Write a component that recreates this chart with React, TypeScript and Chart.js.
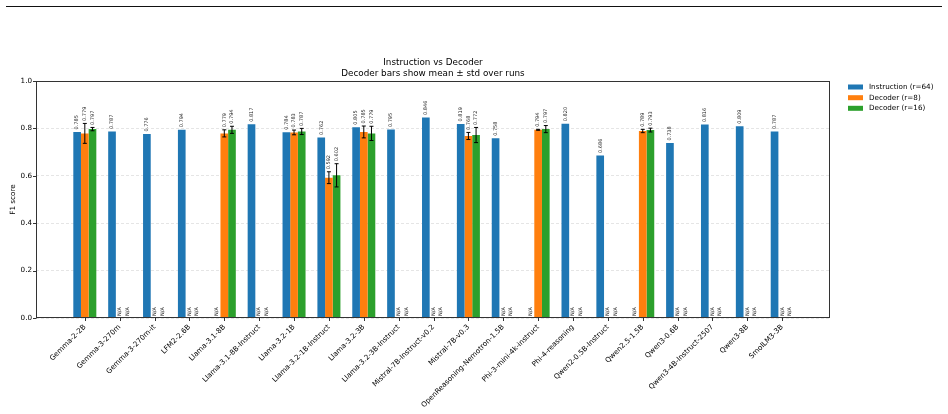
import React, { useEffect, useRef } from 'react';
import { Chart, registerables } from 'chart.js';

Chart.register(...registerables);

const categories = [
  'Gemma-2-2B', 'Gemma-3-270m', 'Gemma-3-270m-it', 'LFM2-2.6B', 'Llama-3.1-8B',
  'Llama-3.1-8B-Instruct', 'Llama-3.2-1B', 'Llama-3.2-1B-Instruct', 'Llama-3.2-3B',
  'Llama-3.2-3B-Instruct', 'Mistral-7B-Instruct-v0.2', 'Mistral-7B-v0.3',
  'OpenReasoning-Nemotron-1.5B', 'Phi-3-mini-4k-instruct', 'Phi-4-reasoning',
  'Qwen2-0.5B-Instruct', 'Qwen2.5-1.5B', 'Qwen3-0.6B', 'Qwen3-4B-Instruct-2507',
  'Qwen3-8B', 'SmolLM3-3B',
];

const instruction = [
  0.785, 0.787, 0.776, 0.794, null, 0.817, 0.784, 0.762, 0.805, 0.795, 0.846,
  0.819, 0.758, null, 0.820, 0.686, null, 0.738, 0.816, 0.809, 0.787,
];

const decoderR8 = [
  0.779, null, null, null, 0.779, null, 0.783, 0.592, 0.785, null, null,
  0.768, null, 0.794, null, null, 0.789, null, null, null, null,
];
const decoderR8Std = [
  0.042, null, null, null, 0.015, null, 0.010, 0.025, 0.025, null, null,
  0.015, null, 0.002, null, null, 0.007, null, null, null, null,
];

const decoderR16 = [
  0.797, null, null, null, 0.794, null, 0.787, 0.602, 0.779, null, null,
  0.772, null, 0.797, null, null, 0.793, null, null, null, null,
];
const decoderR16Std = [
  0.007, null, null, null, 0.015, null, 0.013, 0.049, 0.030, null, null,
  0.032, null, 0.015, null, null, 0.008, null, null, null, null,
];

const yTicks = [0, 0.2, 0.4, 0.6, 0.8, 1.0];

const seriesLabels = ['Instruction (r=64)', 'Decoder (r=8)', 'Decoder (r=16)'];
const seriesColors = ['#1f77b4', '#ff7f0e', '#2ca02c'];

const titleLines = ['Instruction vs Decoder', 'Decoder bars show mean \u00b1 std over runs'];
const yTitle = 'F1 score';

const FONT = '"DejaVu Sans", sans-serif';

export default function App() {
  const ref = useRef<HTMLCanvasElement>(null);

  useEffect(() => {
    const canvas = ref.current;
    if (!canvas) return;

    const values = [instruction, decoderR8, decoderR16];
    const stds = [null, decoderR8Std, decoderR16Std];

    const overlay = {
      id: 'overlay',
      afterDraw(chart: any) {
        const ctx = chart.ctx as CanvasRenderingContext2D;
        const area = chart.chartArea;
        const xs = chart.scales.x;
        const ys = chart.scales.y;
        const unit = xs.getPixelForValue(1) - xs.getPixelForValue(0);
        const barW = (unit * 0.66) / 3;
        ctx.save();

        // error bars
        ctx.strokeStyle = '#000';
        ctx.lineWidth = 1;
        for (let d = 1; d < 3; d++) {
          const meta = chart.getDatasetMeta(d);
          const vals = values[d];
          const sd = stds[d] as (number | null)[];
          vals.forEach((v, i) => {
            if (v == null || sd[i] == null) return;
            const el = meta.data[i];
            const x = el.x;
            const y1 = ys.getPixelForValue((v as number) - (sd[i] as number));
            const y2 = ys.getPixelForValue((v as number) + (sd[i] as number));
            ctx.beginPath();
            ctx.moveTo(x, y1);
            ctx.lineTo(x, y2);
            ctx.moveTo(x - 2, y1);
            ctx.lineTo(x + 2, y1);
            ctx.moveTo(x - 2, y2);
            ctx.lineTo(x + 2, y2);
            ctx.stroke();
          });
        }

        // value labels and N/A
        ctx.fillStyle = '#222';
        ctx.font = `5px ${FONT}`;
        ctx.textAlign = 'left';
        ctx.textBaseline = 'middle';
        for (let d = 0; d < 3; d++) {
          const meta = chart.getDatasetMeta(d);
          const vals = values[d];
          const sd = stds[d] as (number | null)[] | null;
          vals.forEach((v, i) => {
            const el = meta.data[i];
            let x = el && isFinite(el.x) ? el.x : xs.getPixelForValue(i) + (d - 1) * barW;
            let text: string;
            let y: number;
            if (v == null) {
              text = 'N/A';
              y = ys.getPixelForValue(0) - 2;
            } else {
              text = (v as number).toFixed(3);
              const top = (v as number) + (sd && sd[i] != null ? (sd[i] as number) : 0);
              y = ys.getPixelForValue(top) - 2.5;
            }
            ctx.save();
            ctx.translate(x, y);
            ctx.rotate(-Math.PI / 2);
            ctx.fillText(text, 0, 0);
            ctx.restore();
          });
        }

        // frame
        ctx.strokeStyle = '#333';
        ctx.lineWidth = 1;
        const L = Math.round(area.left) + 0.5;
        const R = Math.round(area.right) - 0.5;
        const T = Math.round(area.top) + 0.5;
        const B = Math.round(area.bottom) - 0.5;
        ctx.strokeRect(L, T, R - L, B - T);

        // tick marks
        ctx.beginPath();
        yTicks.forEach((t) => {
          const y = Math.round(ys.getPixelForValue(t)) + 0.5;
          ctx.moveTo(L - 3.5, y);
          ctx.lineTo(L, y);
        });
        categories.forEach((_, i) => {
          const x = Math.round(xs.getPixelForValue(i)) + 0.5;
          ctx.moveTo(x, B);
          ctx.lineTo(x, B + 3.5);
        });
        ctx.stroke();

        // title
        const cx = (area.left + area.right) / 2;
        ctx.fillStyle = '#000';
        ctx.font = `8.8px ${FONT}`;
        ctx.textAlign = 'center';
        ctx.textBaseline = 'middle';
        ctx.fillText(titleLines[0], cx, 63);
        ctx.fillText(titleLines[1], cx, 74);

        // y title
        ctx.font = `7.2px ${FONT}`;
        ctx.save();
        ctx.translate(13, (area.top + area.bottom) / 2);
        ctx.rotate(-Math.PI / 2);
        ctx.fillText(yTitle, 0, 0);
        ctx.restore();

        // legend
        const rows = [87, 97.7, 108.3];
        ctx.textAlign = 'left';
        seriesLabels.forEach((lab, k) => {
          ctx.fillStyle = seriesColors[k];
          ctx.fillRect(848, rows[k] - 2.5, 15, 5);
          ctx.fillStyle = '#000';
          ctx.fillText(lab, 869, rows[k]);
        });

        ctx.restore();
      },
    };

    const chart = new Chart(canvas, {
      type: 'bar',
      data: {
        datasets: values.map((vals, d) => ({
          label: seriesLabels[d],
          data: vals.map((v, i) => ({ x: i, y: v })),
          backgroundColor: seriesColors[d],
          borderWidth: 0,
        })) as any,
      },
      options: {
        responsive: false,
        animation: false,
        layout: { padding: { left: 0, right: 118, top: 81, bottom: 0 } },
        plugins: {
          legend: { display: false },
          title: { display: false },
          tooltip: { enabled: false },
        },
        datasets: { bar: { barPercentage: 1, categoryPercentage: 0.66 } } as any,
        scales: {
          x: {
            type: 'linear',
            min: -1.4,
            max: 21.37,
            offset: false,
            grid: { display: false, offset: false, drawTicks: false },
            border: { display: false },
            afterBuildTicks: (s: any) => {
              s.ticks = categories.map((_, i) => ({ value: i }));
            },
            afterFit: (s: any) => {
              s.height = 96;
            },
            ticks: {
              autoSkip: false,
              maxRotation: 45,
              minRotation: 45,
              padding: 5,
              color: '#000',
              font: { family: FONT, size: 7.2 },
              callback: (v: any) => categories[v] ?? '',
            },
          } as any,
          y: {
            type: 'linear',
            min: 0,
            max: 1,
            grid: {
              color: 'rgba(0,0,0,0.13)',
              drawTicks: false,
              lineWidth: 0.8,
            },
            border: { display: false, dash: [3, 2] },
            afterBuildTicks: (s: any) => {
              s.ticks = yTicks.map((v) => ({ value: v }));
            },
            afterFit: (s: any) => {
              s.width = 36;
            },
            ticks: {
              padding: 4,
              color: '#000',
              font: { family: FONT, size: 7.2 },
              callback: (v: any) => Number(v).toFixed(1),
            },
          } as any,
        },
      },
      plugins: [overlay],
    });

    return () => chart.destroy();
  }, []);

  return (
    <div style={{ position: 'fixed', left: 0, top: 0, width: 948, height: 414, background: '#fff' }}>
      <div style={{ position: 'absolute', left: 6, top: 5.5, width: 936, height: 0, borderTop: '1.2px solid #111' }} />
      <canvas ref={ref} width={948} height={414} style={{ display: 'block', width: 948, height: 414 }} />
    </div>
  );
}
